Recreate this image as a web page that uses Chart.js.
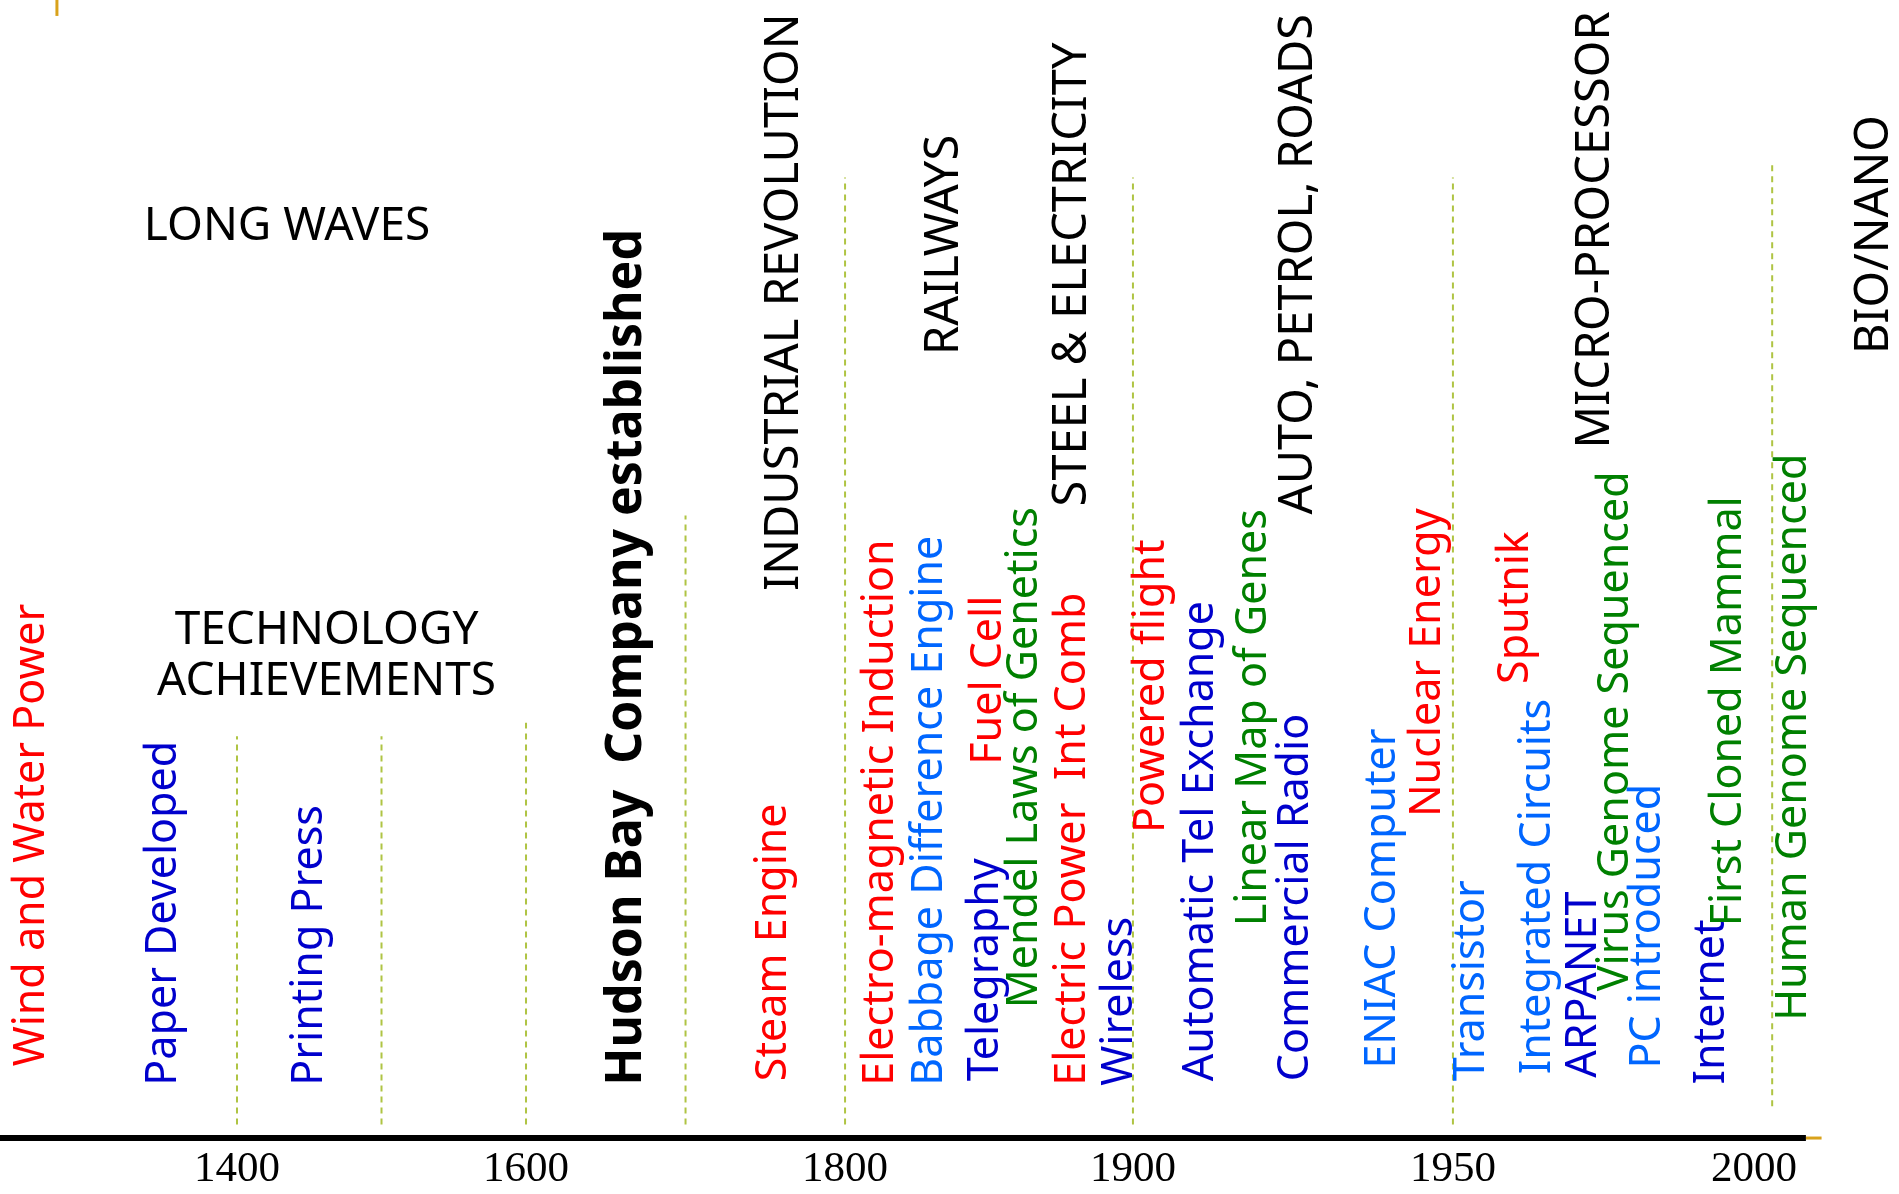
<!DOCTYPE html>
<html>
<head>
<meta charset="utf-8">
<title>Long waves and technology achievements</title>
<script src="https://cdn.jsdelivr.net/npm/chart.js@4"></script>
<style>
  html, body { margin: 0; padding: 0; background: #fff; }
  #wrap { width: 1899px; height: 1194px; }
</style>
</head>
<body>
<div id="wrap"><canvas id="timeline"></canvas></div>
<script>
// years printed under the axis
const tickYears = [1400, 1600, 1800, 1900, 1950, 2000];

// dashed era markers: where they stand and how far up they reach
const markerYears = [1400, 1500, 1600, 1700, 1800, 1900, 1950, 2003];
const markerTops = [35.3, 35.3, 36.5, 54.7, 84.4, 84.4, 84.4, 85.9];
const markerBases = [1.2, 1.2, 1.2, 1.2, 1.2, 1.2, 1.2, 2.8];

// technology achievements, text runs upward from its start height
const eventNames = [
  'Wind and Water Power', 'Paper Developed', 'Printing Press', 'Hudson Bay  Company established',
  'Steam Engine', 'Electro-magnetic Induction', 'Babbage Difference Engine', 'Telegraphy',
  'Fuel Cell', 'Mendel Laws of Genetics', 'Electric Power  Int Comb', 'Wireless',
  'Powered flight', 'Automatic Tel Exchange', 'Linear Map of Genes', 'Commercial Radio',
  'ENIAC Computer', 'Nuclear Energy', 'Transistor', 'Sputnik',
  'Integrated Circuits', 'ARPANET', 'Virus Genome Sequenced', 'PC introduced',
  'Internet', 'First Cloned Mammal', 'Human Genome Sequenced'
];
const eventYears = [
  1258, 1349, 1450, 1663,
  1755, 1812.5, 1829.5, 1849,
  1850, 1862.5, 1879, 1895.5,
  1903, 1910.6, 1918.9, 1925.5,
  1939, 1946, 1953.2, 1960.5,
  1964, 1971.8, 1977, 1982.4,
  1993, 1995.8, 2006.6
];
const eventStarts = [
  6.3, 4.6, 4.6, 4.6,
  5.0, 4.6, 4.6, 5.0,
  32.8, 11.4, 4.6, 4.6,
  26.8, 5.0, 18.6, 5.0,
  6.1, 28.2, 5.0, 39.9,
  5.6, 5.3, 12.9, 6.1,
  4.7, 18.6, 10.3
];
const eventKinds = [
  'energy', 'comm', 'comm', 'milestone',
  'energy', 'energy', 'computing', 'comm',
  'energy', 'bio', 'energy', 'comm',
  'energy', 'comm', 'bio', 'comm',
  'computing', 'energy', 'computing', 'energy',
  'computing', 'comm', 'bio', 'computing',
  'comm', 'bio', 'bio'
];

// long waves
const waveNames = ['INDUSTRIAL REVOLUTION', 'RAILWAYS', 'STEEL & ELECTRICITY', 'AUTO, PETROL, ROADS', 'MICRO-PROCESSOR', 'BIO/NANO'];
const waveYears = [1762, 1834.7, 1879, 1925.9, 1973.7, 2020];
const waveStarts = [48.1, 68.8, 55.5, 54.8, 60.6, 68.9];

// horizontal headings
const headingLines = ['LONG WAVES', 'TECHNOLOGY', 'ACHIEVEMENTS'];
const headingYears = [1434.6, 1462, 1462];
const headingHeights = [80.1, 44.6, 40.1];

// axis extent
const axisStart = 1236;
const axisEnd = 2008.6;
const axisStub = 2011.2;

// --- styling ---
const kindColors = {
  energy: '#FF0000',
  comm: '#0000CC',
  computing: '#0066FF',
  bio: '#008000',
  milestone: '#000000'
};
const handFont = '"Comic Sans MS", "Noto Sans", sans-serif';
const markerColor = '#AFC443';
const slideOrange = '#D9A21B';

// where each tick year sits along the axis (fraction of the width)
const axisStops = [
  { year: 1400, at: 0.1248 },
  { year: 1600, at: 0.2770 },
  { year: 1800, at: 0.4450 },
  { year: 1900, at: 0.5966 },
  { year: 1950, at: 0.7651 },
  { year: 2000, at: 0.9237 }
];

// piecewise time axis, the slide squeezes the early centuries
class TimelineScale extends Chart.LinearScale {
  getPixelForValue(value) {
    if (value === null || value === undefined || isNaN(value)) return NaN;
    let i = 0;
    while (i < axisStops.length - 2 && value > axisStops[i + 1].year) i++;
    const a = axisStops[i], b = axisStops[i + 1];
    const d = a.at + (value - a.year) * (b.at - a.at) / (b.year - a.year);
    return this.getPixelForDecimal(d);
  }
  getValueForPixel(pixel) {
    const d = this.getDecimalForPixel(pixel);
    let i = 0;
    while (i < axisStops.length - 2 && d > axisStops[i + 1].at) i++;
    const a = axisStops[i], b = axisStops[i + 1];
    return a.year + (d - a.at) * (b.year - a.year) / (b.at - a.at);
  }
}
TimelineScale.id = 'timeline';
TimelineScale.defaults = {};
Chart.register(TimelineScale);

// draws the text attached to the invisible points
const textPlugin = {
  id: 'timelineText',
  afterDatasetsDraw(chart) {
    const ctx = chart.ctx;
    chart.data.datasets.forEach((ds, i) => {
      if (!ds.textLabels) return;
      const meta = chart.getDatasetMeta(i);
      meta.data.forEach((pt, j) => {
        const style = ds.textStyle(j);
        ctx.save();
        ctx.translate(pt.x, pt.y);
        if (ds.vertical) ctx.rotate(-Math.PI / 2);
        ctx.font = style.font;
        ctx.fillStyle = style.color;
        ctx.textAlign = ds.vertical ? 'left' : 'center';
        ctx.textBaseline = 'middle';
        ctx.fillText(ds.textLabels[j], 0, 0);
        ctx.restore();
      });
    });
  }
};

const markerSets = markerYears.map((yr, i) => ({
  showLine: true,
  data: [{ x: yr, y: markerBases[i] }, { x: yr, y: markerTops[i] }],
  borderColor: markerColor,
  borderWidth: 2,
  borderDash: [6, 5],
  pointRadius: 0
}));

new Chart(document.getElementById('timeline'), {
  type: 'scatter',
  data: {
    datasets: [
      ...markerSets,
      {
        showLine: true,
        data: [{ x: axisStart, y: 0 }, { x: axisEnd, y: 0 }],
        borderColor: '#000000',
        borderWidth: 6,
        pointRadius: 0,
        clip: false
      },
      {
        showLine: true,
        data: [{ x: axisEnd, y: 0 }, { x: axisStub, y: 0 }],
        borderColor: slideOrange,
        borderWidth: 3,
        pointRadius: 0,
        clip: false
      },
      {
        showLine: true,
        data: [{ x: 1275.4, y: 98.6 }, { x: 1275.4, y: 100 }],
        borderColor: slideOrange,
        borderWidth: 3,
        pointRadius: 0,
        clip: false
      },
      {
        data: eventYears.map((x, i) => ({ x, y: eventStarts[i] })),
        pointRadius: 0,
        textLabels: eventNames,
        vertical: true,
        textStyle: (j) => ({
          font: eventKinds[j] === 'milestone' ? 'bold 50px ' + handFont : '43px ' + handFont,
          color: kindColors[eventKinds[j]]
        })
      },
      {
        data: waveYears.map((x, i) => ({ x, y: waveStarts[i] })),
        pointRadius: 0,
        textLabels: waveNames,
        vertical: true,
        textStyle: () => ({ font: '47px ' + handFont, color: '#000000' })
      },
      {
        data: headingYears.map((x, i) => ({ x, y: headingHeights[i] })),
        pointRadius: 0,
        textLabels: headingLines,
        vertical: false,
        textStyle: () => ({ font: '46px ' + handFont, color: '#000000' })
      }
    ]
  },
  options: {
    responsive: true,
    maintainAspectRatio: false,
    animation: false,
    events: [],
    layout: { padding: 0 },
    plugins: {
      legend: { display: false },
      tooltip: { enabled: false },
      title: { display: false }
    },
    scales: {
      x: {
        type: 'timeline',
        position: 'bottom',
        min: axisStart,
        max: 2024,
        grid: { display: false, drawTicks: false },
        border: { display: false },
        afterBuildTicks: (scale) => {
          scale.ticks = tickYears.map(v => ({ value: v }));
        },
        ticks: {
          padding: 2.5,
          color: '#000000',
          font: { family: '"Liberation Serif", "Times New Roman", serif', size: 43, lineHeight: 1.0 },
          callback: (v) => String(v)
        }
      },
      y: {
        display: false,
        min: -0.7,
        max: 100
      }
    }
  },
  plugins: [textPlugin]
});
</script>
</body>
</html>
